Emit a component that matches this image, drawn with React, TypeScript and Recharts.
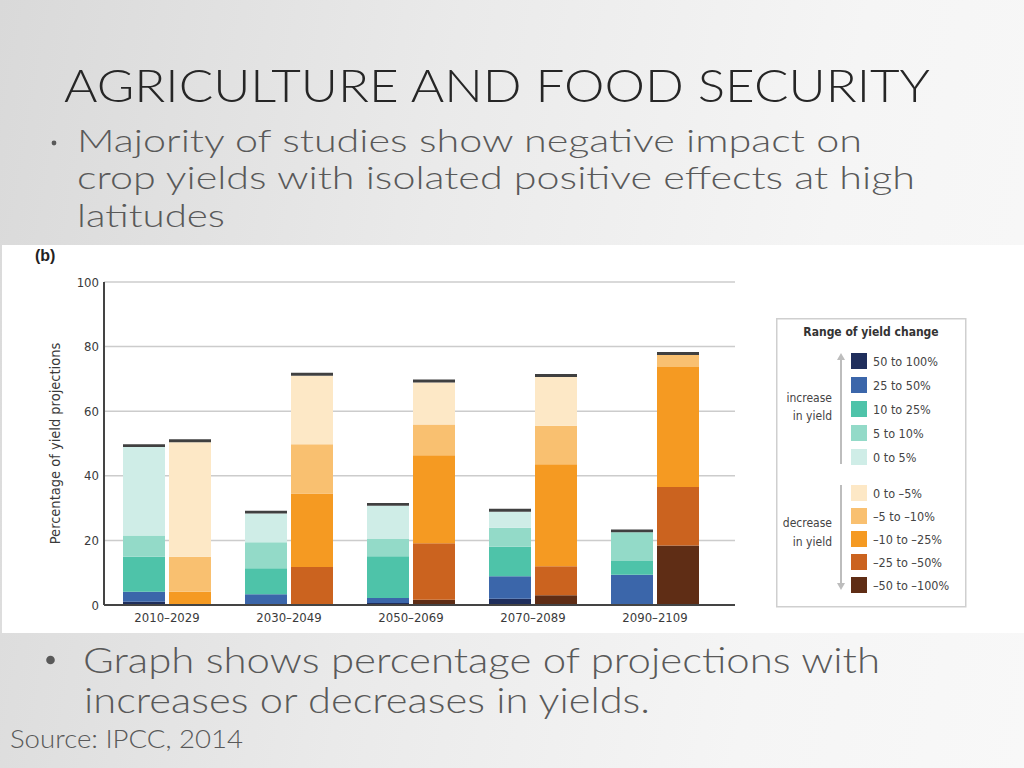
import React from 'react';
import { BarChart, Bar, XAxis, YAxis, CartesianGrid } from 'recharts';

const periods = ['2010–2029', '2030–2049', '2050–2069', '2070–2089', '2090–2109'];

// increase in yield (share of projections, %)
const inc50 = [1.0, 0, 0.6, 1.9, 0];
const inc25 = [3.1, 3.3, 1.6, 7.0, 9.4];
const inc10 = [10.8, 8.1, 12.9, 9.1, 4.2];
const inc5 = [6.6, 8.0, 5.3, 5.9, 8.9];
const inc0 = [27.4, 8.9, 10.3, 5.0, 0];

// decrease in yield
const dec50 = [0, 0, 1.6, 3.0, 18.4];
const dec25 = [0, 11.8, 17.5, 9.0, 18.1];
const dec10 = [4.1, 22.7, 27.3, 31.6, 37.2];
const dec5 = [10.8, 15.3, 9.5, 11.9, 3.7];
const dec0 = [35.5, 21.2, 13.0, 15.1, 0];

// dark rule on top of every stack
const capInc = [0.9, 0.9, 0.9, 0.9, 0.9];
const capDec = [0.9, 0.9, 0.9, 0.9, 0.9];

const yTicks = [0, 20, 40, 60, 80, 100];

const INC_SERIES = [
  { key: 'inc50', name: '50 to 100%', color: '#1f2e5c', values: inc50 },
  { key: 'inc25', name: '25 to 50%', color: '#3b66aa', values: inc25 },
  { key: 'inc10', name: '10 to 25%', color: '#4ec3a9', values: inc10 },
  { key: 'inc5', name: '5 to 10%', color: '#93dac8', values: inc5 },
  { key: 'inc0', name: '0 to 5%', color: '#cfede7', values: inc0 },
];

const DEC_SERIES = [
  { key: 'dec50', name: '–50 to –100%', color: '#5f2d15', values: dec50 },
  { key: 'dec25', name: '–25 to –50%', color: '#cb631f', values: dec25 },
  { key: 'dec10', name: '–10 to –25%', color: '#f59a22', values: dec10 },
  { key: 'dec5', name: '–5 to –10%', color: '#f9c070', values: dec5 },
  { key: 'dec0', name: '0 to –5%', color: '#fde8c6', values: dec0 },
];

const data = periods.map((period, i) => {
  const row: Record<string, string | number> = { period, capInc: capInc[i], capDec: capDec[i] };
  [...INC_SERIES, ...DEC_SERIES].forEach((s) => {
    row[s.key] = s.values[i];
  });
  return row;
});

const SLIDE_FONT = "Lato, 'Open Sans', sans-serif";
const CHART_FONT = "'Liberation Sans Narrow', 'DejaVu Sans Condensed', 'Open Sans', sans-serif";

function YieldLegend() {
  // legend lists the increases from largest down, then decreases from smallest down
  const incRows = INC_SERIES;
  const decRows = [...DEC_SERIES].reverse();
  return (
    <svg width={192} height={291} style={{ position: 'absolute', left: 776, top: 318 }}>
      <rect x={0.75} y={0.75} width={189} height={288} fill="#fff" stroke="#cfcfcf" strokeWidth={1.5} />
      <text x={95} y={18} textAnchor="middle" fontFamily={CHART_FONT} fontWeight="bold" fontSize={12} fill="#333">
        Range of yield change
      </text>
      <line x1={65} y1={40} x2={65} y2={146} stroke="#bdbdbd" strokeWidth={2} />
      <path d="M61,42 L65,35 L69,42 Z" fill="#bdbdbd" />
      <line x1={65} y1={167} x2={65} y2={266} stroke="#bdbdbd" strokeWidth={2} />
      <path d="M61,265 L65,272 L69,265 Z" fill="#bdbdbd" />
      <g fontFamily={CHART_FONT} fontSize={12} fill="#444" textAnchor="end">
        <text x={56} y={84}>increase</text>
        <text x={56} y={102}>in yield</text>
        <text x={56} y={209}>decrease</text>
        <text x={56} y={228}>in yield</text>
      </g>
      {incRows.map((s, i) => (
        <g key={s.key}>
          <rect x={75} y={35 + i * 24} width={16} height={16} fill={s.color} />
          <text x={97} y={43 + i * 24} dominantBaseline="central" fontFamily={CHART_FONT} fontSize={12.5} fill="#444">
            {s.name}
          </text>
        </g>
      ))}
      {decRows.map((s, i) => (
        <g key={s.key}>
          <rect x={75} y={167 + i * 23} width={16} height={16} fill={s.color} />
          <text x={97} y={175 + i * 23} dominantBaseline="central" fontFamily={CHART_FONT} fontSize={12.5} fill="#444">
            {s.name}
          </text>
        </g>
      ))}
    </svg>
  );
}

function SlideText() {
  return (
    <svg width={1024} height={768} style={{ position: 'absolute', left: 0, top: 0, pointerEvents: 'none' }}>
      <g fontFamily={SLIDE_FONT} fontWeight={300}>
        <text x={64} y={102} fontSize={46} fill="#262626" textLength={866} lengthAdjust="spacingAndGlyphs">
          AGRICULTURE AND FOOD SECURITY
        </text>
        <circle cx={54} cy={143} r={2.4} fill="#595959" />
        <g fontSize={31} fill="#595959">
          <text x={77} y={152} textLength={785} lengthAdjust="spacingAndGlyphs">
            Majority of studies show negative impact on
          </text>
          <text x={77} y={189} textLength={838} lengthAdjust="spacingAndGlyphs">
            crop yields with isolated positive effects at high
          </text>
          <text x={77} y={227} textLength={148} lengthAdjust="spacingAndGlyphs">
            latitudes
          </text>
        </g>
        <circle cx={50.5} cy={660} r={4.3} fill="#595959" />
        <g fontSize={36} fill="#595959">
          <text x={83} y={673} textLength={797} lengthAdjust="spacingAndGlyphs">
            Graph shows percentage of projections with
          </text>
          <text x={84} y={713} textLength={566} lengthAdjust="spacingAndGlyphs">
            increases or decreases in yields.
          </text>
        </g>
        <text x={10} y={748} fontSize={25} fill="#595959" textLength={233} lengthAdjust="spacingAndGlyphs">
          Source: IPCC, 2014
        </text>
      </g>
    </svg>
  );
}

export default function App() {
  return (
    <div
      style={{
        position: 'absolute',
        left: 0,
        top: 0,
        width: 1024,
        height: 768,
        overflow: 'hidden',
        background: 'linear-gradient(100deg, #d9d9d9 0%, #eaeaea 40%, #f5f5f5 75%, #f8f8f8 100%)',
      }}
    >
      <div style={{ position: 'absolute', left: 2, top: 245, width: 1022, height: 388, background: '#fff' }}>
        <span
          style={{
            position: 'absolute',
            left: 33,
            top: 2,
            fontFamily: 'Arial, Liberation Sans, sans-serif',
            fontWeight: 'bold',
            fontSize: 16,
            color: '#222',
          }}
        >
          (b)
        </span>
      </div>
      <div style={{ position: 'absolute', left: 0, top: 245 }}>
        <BarChart
          width={1024}
          height={389}
          data={data}
          margin={{ top: 37, right: 289, bottom: 5, left: 54 }}
          barSize={42}
          barGap={4}
        >
          <CartesianGrid vertical={false} stroke="#cccccc" strokeWidth={1.5} />
          <XAxis
            dataKey="period"
            height={24}
            padding={{ left: 2, right: 19 }}
            axisLine={{ stroke: '#444', strokeWidth: 2 }}
            tickLine={false}
            tickSize={0}
            tickMargin={8}
            tick={{ fill: '#3a3a3a', fontSize: 13, fontFamily: CHART_FONT }}
          />
          <YAxis
            width={50}
            domain={[0, 100]}
            ticks={yTicks}
            allowDataOverflow
            axisLine={{ stroke: '#444', strokeWidth: 2 }}
            tickLine={false}
            tickSize={0}
            tickMargin={5}
            tick={{ fill: '#3a3a3a', fontSize: 13, fontFamily: CHART_FONT }}
            label={{
              content: (props: any) => {
                const vb = props.viewBox || { x: 54, y: 37, width: 50, height: 323 };
                const cx = vb.x + 1;
                const cy = vb.y + vb.height / 2;
                return (
                  <text
                    x={cx}
                    y={cy}
                    transform={`rotate(-90 ${cx} ${cy})`}
                    textAnchor="middle"
                    dominantBaseline="central"
                    fontFamily={CHART_FONT}
                    fontSize={14.5}
                    fill="#3a3a3a"
                  >
                    Percentage of yield projections
                  </text>
                );
              },
            }}
          />
          {INC_SERIES.map((s) => (
            <Bar key={s.key} dataKey={s.key} name={s.name} stackId="inc" fill={s.color} isAnimationActive={false} />
          ))}
          <Bar dataKey="capInc" stackId="inc" fill="#404040" isAnimationActive={false} />
          {DEC_SERIES.map((s) => (
            <Bar key={s.key} dataKey={s.key} name={s.name} stackId="dec" fill={s.color} isAnimationActive={false} />
          ))}
          <Bar dataKey="capDec" stackId="dec" fill="#404040" isAnimationActive={false} />
        </BarChart>
      </div>
      <YieldLegend />
      <SlideText />
    </div>
  );
}
